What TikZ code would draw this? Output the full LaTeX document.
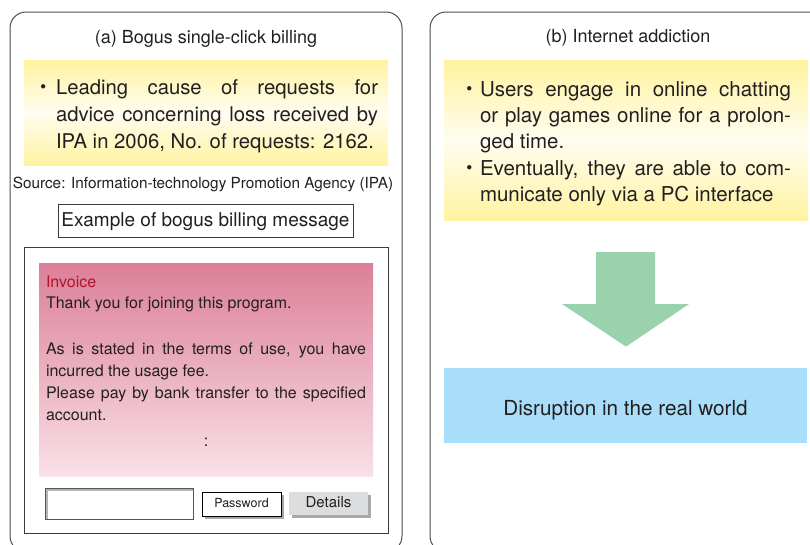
\documentclass[tikz,border=0pt]{standalone}
\usepackage{fontspec}
\setmainfont{TeX Gyre Heros}
\newfontfamily\cjkfont{Noto Sans CJK JP}
\usetikzlibrary{shadows}

\definecolor{ink}{HTML}{231F20}
\definecolor{panelline}{HTML}{4D4D4D}
\definecolor{frameline}{HTML}{3A3A3A}
\definecolor{noteyellow}{HTML}{FFF3A0}
\definecolor{notelight}{HTML}{FFFDF0}
\definecolor{invtop}{HTML}{DC7F98}
\definecolor{invbottom}{HTML}{F9E1E7}
\definecolor{invred}{HTML}{B0142E}
\definecolor{arrowgreen}{HTML}{9AD2AE}
\definecolor{resultblue}{HTML}{A8DEF9}
\definecolor{btngray}{HTML}{DCDDDF}
\definecolor{btnshadow}{HTML}{A7A8AA}
\definecolor{fieldline}{HTML}{555555}
\definecolor{fieldinset}{HTML}{B5B5B5}

\newcommand{\fsz}[2]{\fontsize{#1}{#2}\selectfont}
\newcommand{\bul}[1]{\makebox[#1]{\cjkfont ・}}

\begin{document}
\begin{tikzpicture}[x=1pt,y=-1pt,
  every node/.style={inner sep=0pt, outer sep=0pt, text=ink},
  panel/.style={draw=panelline, line width=1pt, rounded corners=16pt,
    minimum width=#1, minimum height=540pt, anchor=north west},
  notebox/.style={top color=noteyellow, bottom color=noteyellow,
    middle color=notelight, anchor=north west},
  heading/.style={font=\fsz{18}{21}, anchor=base},
  btnshade/.style={drop shadow={shadow xshift=3pt, shadow yshift=-3pt,
    fill=btnshadow, opacity=1}}]

\useasboundingbox (0,0) rectangle (810,544);
\fill[white] (0,0) rectangle (810,544);

% the two panels
\node[panel=392pt] (panelA) at (10,12) {};
\node[panel=400pt] (panelB) at (430,12) {};

\node[heading] (titleA) at (206,43.3) {(a) Bogus single-click billing};
\node[heading] (titleB) at (628,42.7) {(b) Internet addiction};

% (a) statistics note
\node[notebox, minimum width=364pt, minimum height=105pt] (noteA) at (24,60) {};
\node[anchor=base west] (noteAtext) at (32,94.5) {\parbox[t]{346pt}{\fsz{20.3}{27}%
  \bul{24pt}\makebox[322pt][s]{Leading cause of requests for}\\
  \hspace*{24pt}\makebox[322pt][s]{advice concerning loss received by}\\
  \hspace*{24pt}IPA in 2006, No. of requests: 2162.}};

\node[anchor=base] (source) at (203,188.5)
  {\fsz{15.3}{18}Source: Information-technology Promotion Agency (IPA)};

\node[draw=frameline, line width=0.8pt, minimum width=295pt, minimum height=33pt,
  anchor=north west, font=\fsz{19}{22}, text height=14pt, text depth=3pt]
  (example) at (58,204) {Example of bogus billing message};

% mock billing screen
\node[draw=frameline, line width=1pt, minimum width=364pt, minimum height=286pt,
  anchor=north west] (screen) at (24,247) {};
\node[top color=invtop, bottom color=invbottom, minimum width=334pt,
  minimum height=213pt, anchor=north west] (invoice) at (39,263) {};
\node[anchor=base west] (invoicetext) at (46,287) {\parbox[t]{320pt}{\fsz{16}{22}%
  \textcolor{invred}{Invoice}\\[-0.5pt]
  Thank you for joining this program.\\[23.5pt]
  \makebox[320pt][s]{As is stated in the terms of use, you have}\\
  incurred the usage fee.\\
  \makebox[320pt][s]{Please pay by bank transfer to the specified}\\
  account.\\[4pt]
  \makebox[320pt]{:}}};

% input field and buttons
\node[draw=fieldline, fill=white, line width=0.9pt, minimum width=148pt,
  minimum height=31pt, anchor=north west] (field) at (45,488) {};
\draw[fieldinset, line width=2.4pt] (46.7,518.5) -- (46.7,489.7) -- (192.5,489.7);

\node[draw=black, fill=white, line width=0.8pt, minimum width=79pt, minimum height=24pt,
  anchor=north west, btnshade, font=\fsz{12.5}{14}, text height=9pt, text depth=3pt]
  (password) at (202,492) {Password};
\node[fill=btngray, minimum width=79pt, minimum height=23pt, anchor=north west,
  btnshade, font=\fsz{15}{17}, text height=11pt, text depth=3pt]
  (details) at (289,492) {Details};

% (b) addiction note
\node[notebox, minimum width=364pt, minimum height=160.7pt] (noteB) at (444,60) {};
\node[anchor=base west] (noteBtext) at (460,96) {\parbox[t]{331pt}{\fsz{20.5}{26.4}%
  \bul{20pt}\makebox[311pt][s]{Users engage in online chatting}\\
  \hspace*{20pt}\makebox[311pt][s]{or play games online for a prolon-}\\
  \hspace*{20pt}ged time.\\
  \bul{20pt}\makebox[311pt][s]{Eventually, they are able to com-}\\
  \hspace*{20pt}municate only via a PC interface}};

% block arrow down to the consequence
\fill[arrowgreen] (596,252) -- (655,252) -- (655,304) -- (689,304) -- (626,346.6)
  -- (562,304) -- (596,304) -- cycle;

\node[fill=resultblue, minimum width=363pt, minimum height=75pt, anchor=north west,
  font=\fsz{20.7}{24}, text height=19pt, text depth=0pt]
  (result) at (444,368) {Disruption in the real world};

\end{tikzpicture}
\end{document}
